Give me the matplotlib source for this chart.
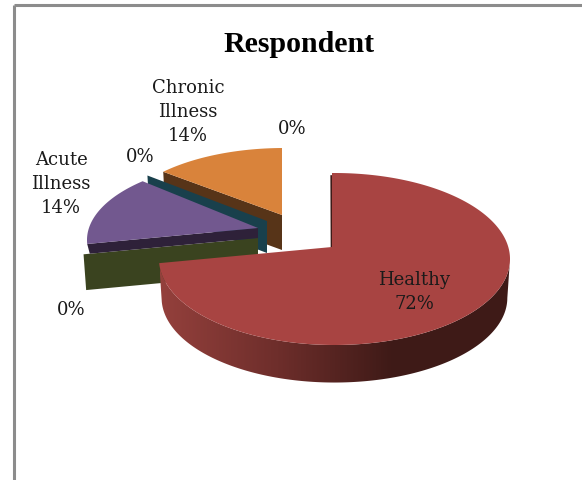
import numpy as np
import matplotlib
matplotlib.use("Agg")
import matplotlib.pyplot as plt
from matplotlib.colors import LinearSegmentedColormap
from matplotlib.patches import Polygon

# data, clockwise from 12 o'clock
categories = ["Healthy", "", "Acute\nIllness", "", "Chronic\nIllness", ""]
values = [72, 0, 14, 0, 14, 0]
top_colors = ["#A84442", "#3A431F", "#72588F", "#19404C", "#D9833B", "#D9833B"]
wall_colors = ["#3E1A17", "#3A431F", "#2E2139", "#19404C", "#573418", "#573418"]

# where each slice sits on the canvas (exploded):
# apex x, apex y, centre dx, dy, rx, ry, depth, tilt
layout = {
    0: (332, 247, 2.5, 12, 175.5, 86, 39, 0.49),
    1: (258, 238, 2, 10, 177, 80, 36, 0.49),
    2: (258, 228, 2, 12, 173, 80, 10, 0.49),
    3: (267, 221, 2, 10, 173, 78, 32, 0.46),
    4: (282, 215, 2, 11, 168, 78, 35, 0.44),
}
SHRINK = 0.985  # the lower rim is a little smaller, perspective


def rim(theta, s):
    # ray from the apex to the ellipse of that slice, theta clockwise from the top
    x0, y0, dx, dy, rx, ry, _, tilt = s
    ux, uy = np.sin(theta), -np.cos(theta) * tilt
    a = (ux / rx) ** 2 + (uy / ry) ** 2
    b = -2 * (ux * dx / rx ** 2 + uy * dy / ry ** 2)
    c = (dx / rx) ** 2 + (dy / ry) ** 2 - 1
    t = (-b + np.sqrt(b * b - 4 * a * c)) / (2 * a)
    return x0 + t * ux, y0 + t * uy


def lower(p, s):
    return s[0] + (p[0] - s[0]) * SHRINK, s[1] + (p[1] - s[1]) * SHRINK + s[6]


fig = plt.figure(figsize=(5.82, 4.80), dpi=100)
ax = fig.add_axes([0, 0, 1, 1])

edges = np.radians(np.cumsum([0] + values) * 3.6)


def arc(i, n=120):
    t = np.linspace(edges[i], edges[i + 1], n)
    return np.array([rim(a, layout[i]) for a in t])


def wall(i, edge):
    s = layout[i]
    p = rim(edge, s)
    q = lower(p, s)
    ax.fill([p[0], s[0], s[0], q[0]], [p[1], s[1], s[1] + s[6], q[1]], color=wall_colors[i], lw=0)


def top(i):
    s = layout[i]
    pts = arc(i)
    ax.fill(np.r_[s[0], pts[:, 0]], np.r_[s[1], pts[:, 1]], color=top_colors[i], lw=0)


# frame
ax.plot([14, 14], [480, 5], color="#8C8C8C", lw=2.2, solid_capstyle="butt")
ax.plot([14, 582], [5, 5], color="#8C8C8C", lw=2.2, solid_capstyle="butt")

# back to front
wall(4, edges[4])
top(4)
wall(3, edges[3])
wall(1, edges[1])
wall(2, edges[2])
top(2)

# healthy: shaded side with a gradient, then the top
s = layout[0]
pts = arc(0, 300)
side = pts[np.argmax(pts[:, 0]):]
low = np.array([lower(p, s) for p in side])
outline = np.vstack([side, low[::-1]])
cmap = LinearSegmentedColormap.from_list("side", ["#94403C", "#6E2E2B", "#3E1A17", "#3E1A17"])
img = ax.imshow(np.linspace(0, 1, 350).reshape(1, -1), extent=(160, 510, 400, 250), cmap=cmap,
                aspect="auto", zorder=2)
img.set_clip_path(Polygon(outline, transform=ax.transData))
ax.plot([pts[0, 0] - 0.8, s[0] - 0.5], [pts[0, 1] + 3, s[1]], color="#3E1A17", lw=1.2, zorder=3)
ax.fill(np.r_[s[0], pts[:, 0]], np.r_[s[1], pts[:, 1]], color=top_colors[0], lw=0, zorder=4)

ax.set_xlim(0, 582)
ax.set_ylim(480, 0)
ax.axis("off")

# labels
font = "DejaVu Serif"
ax.text(299, 44, "Respondent", ha="center", va="center", family="Liberation Serif",
        weight="bold", fontsize=21.5, color="black", zorder=5)
label_pos = [(414, 292), (71, 310), (61, 184), (140, 157), (188, 112), (292, 129)]
for name, v, (x, y) in zip(categories, values, label_pos):
    txt = f"{name}\n{v}%" if name else f"{v}%"
    ax.text(x, y, txt, ha="center", va="center", family=font, fontsize=13,
            color="#1A1A1A", linespacing=1.42, zorder=5)

fig.savefig("out.png", dpi=100)
